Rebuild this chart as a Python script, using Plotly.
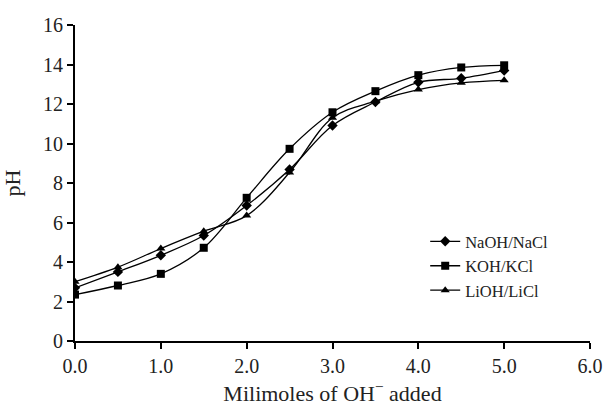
import plotly.graph_objects as go

x = [0.0, 0.5, 1.0, 1.5, 2.0, 2.5, 3.0, 3.5, 4.0, 4.5, 5.0]
naoh = [2.69, 3.50, 4.34, 5.34, 6.86, 8.68, 10.91, 12.10, 13.10, 13.30, 13.70]
koh = [2.35, 2.81, 3.40, 4.72, 7.25, 9.73, 11.58, 12.65, 13.46, 13.85, 13.96]
lioh = [3.00, 3.74, 4.68, 5.56, 6.35, 8.53, 11.30, 12.14, 12.73, 13.07, 13.20]

names = ["NaOH/NaCl", "KOH/KCl", "LiOH/LiCl"]
symbols = ["diamond", "square", "triangle-up"]
sizes = [8, 8, 8]

fig = go.Figure()
for name, ys, sym, sz in zip(names, [naoh, koh, lioh], symbols, sizes):
    fig.add_trace(go.Scatter(
        x=x, y=ys, name=name, mode="lines+markers",
        line=dict(color="black", width=1.3, shape="spline", smoothing=1.0),
        marker=dict(symbol=sym, size=sz, color="black"),
    ))

font = "Liberation Serif"
fig.update_layout(
    width=605, height=407,
    margin=dict(l=75, r=15, t=25, b=66),
    paper_bgcolor="white", plot_bgcolor="white",
    font=dict(family=font, color="#222", size=18),
    showlegend=True,
    legend=dict(x=0.68, y=0.37, xanchor="left", yanchor="top",
                font=dict(size=16.5, family=font, color="#222"),
                bgcolor="rgba(0,0,0,0)", tracegroupgap=0, itemwidth=30),
    xaxis=dict(range=[0, 6], tickvals=[0, 1, 2, 3, 4, 5, 6],
               ticktext=["0.0", "1.0", "2.0", "3.0", "4.0", "5.0", "6.0"],
               showgrid=False, zeroline=False, showline=True, linecolor="black", linewidth=2,
               ticks="outside", ticklen=6, tickwidth=2, tickcolor="black", automargin=False,
               tickfont=dict(size=20, family=font, color="#222"),
               title=dict(text="Milimoles of OH<sup>−</sup> added", font=dict(size=22, family=font, color="#222"), standoff=10)),
    yaxis=dict(range=[0, 16], tickvals=list(range(0, 17, 2)),
               showgrid=False, zeroline=False, showline=True, linecolor="black", linewidth=2,
               ticks="outside", ticklen=6, tickwidth=2, tickcolor="black", automargin=False,
               tickfont=dict(size=20, family=font, color="#222"),
               title=dict(text="pH", font=dict(size=22, family=font, color="#222"), standoff=22)),
)

fig.write_html("out.html")
